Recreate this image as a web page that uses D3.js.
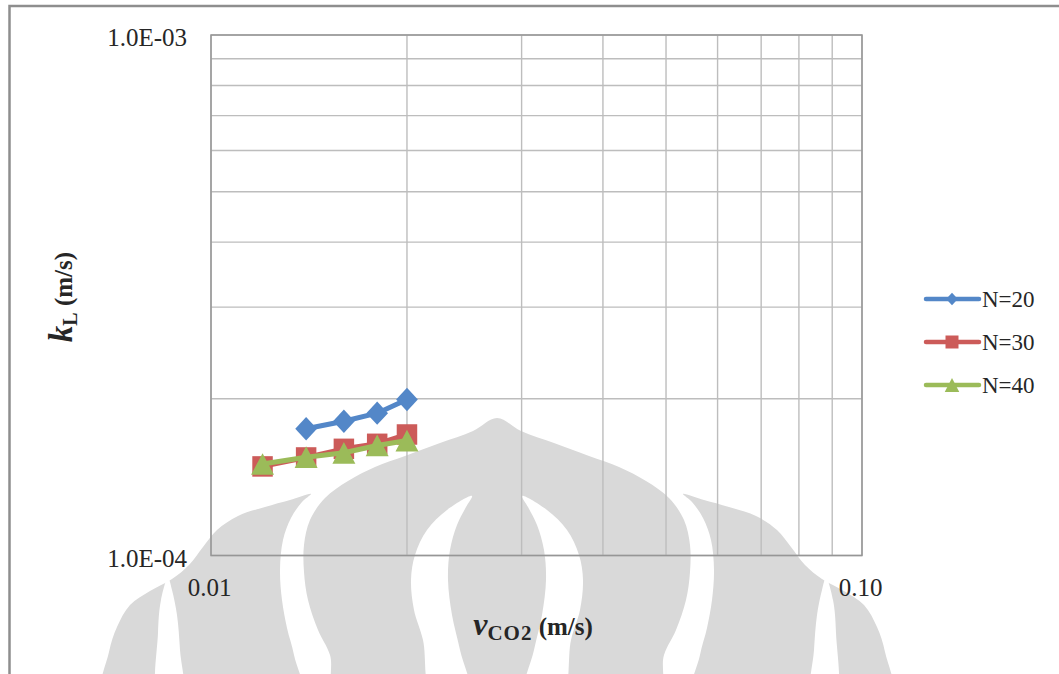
<!DOCTYPE html>
<html>
<head>
<meta charset="utf-8">
<script src="https://cdn.jsdelivr.net/npm/d3@7"></script>
<style>
  html, body { margin: 0; padding: 0; background: #fff; }
  svg { display: block; }
</style>
</head>
<body>
<svg id="chart" width="1059" height="674"></svg>
<script>
// ---- data ----
const seriesNames = ["N=20", "N=30", "N=40"];
const vN20 = [0.014, 0.016, 0.018, 0.020];
const kN20 = [1.752e-4, 1.811e-4, 1.877e-4, 1.994e-4];
const vN30 = [0.012, 0.014, 0.016, 0.018, 0.020];
const kN30 = [1.483e-4, 1.543e-4, 1.603e-4, 1.639e-4, 1.708e-4];
const vN40 = [0.012, 0.014, 0.016, 0.018, 0.020];
const kN40 = [1.499e-4, 1.545e-4, 1.575e-4, 1.627e-4, 1.663e-4];

const xDomain = [0.01, 0.1];
const yDomain = [1e-4, 1e-3];
const xTickValues = [0.01, 0.1];
const xTickLabels = ["0.01", "0.10"];
const yTickValues = [1e-4, 1e-3];
const yTickLabels = ["1.0E-04", "1.0E-03"];

// ---- layout ----
const W = 1059, H = 674;
const plot = { left: 211, right: 862, top: 35, bottom: 555.5 };
const colors = ["#5387c8", "#cc5b59", "#9bbb59"];
const shapes = ["diamond", "square", "triangle"];
const FONT = "'Liberation Serif', 'Times New Roman', serif";
const INK = "#262626";

const svg = d3.select("#chart");

// ---- faint emblem printed behind the figure ----
const EMBLEM_CX = 497;
const mirror = pts => pts.map(([x, y]) => [2 * EMBLEM_CX - x, y]);
const closedCurve = d3.line().curve(d3.curveCatmullRomClosed.alpha(0.5));

const flameLeft = [[497,418],[473,431],[440,443],[405,456],[375,467],[348,481],[325,498],[310,520],[304,545],[304,572],[308,600],[318,630],[330,655],[338,700]];
const flame = flameLeft.concat(mirror(flameLeft).reverse().slice(0, -1));

const petalLeft = [[311,494],[290,500],[265,507],[238,516],[217,530],[203,547],[189,565],[172,579],[150,591],[130,605],[117,627],[109,652],[104,700],[300,700],[294,655],[287,628],[282,600],[280,570],[283,540],[291,518],[302,502]];
const slitLeft = [[168,578],[161,600],[158,633],[159,700],[182,700],[180,650],[177,615],[172,590]];
const crescentLeft = [[472,496],[447,510],[427,530],[415,555],[411,580],[414,610],[423,640],[433,700],[470,700],[460,650],[452,615],[448,580],[450,550],[457,525],[466,507]];

const emblem = svg.append("g").attr("class", "emblem");
[flame, petalLeft, mirror(petalLeft)].forEach(p =>
  emblem.append("path").attr("d", closedCurve(p)).attr("fill", "#d9d9d9"));
[slitLeft, mirror(slitLeft), crescentLeft, mirror(crescentLeft)].forEach(p =>
  emblem.append("path").attr("d", closedCurve(p)).attr("fill", "#ffffff"));

// ---- outer frame ----
svg.append("path")
  .attr("d", `M9.5,${H} V6 H${W}`)
  .attr("fill", "none").attr("stroke", "#8e8e8e").attr("stroke-width", 2.5);

// ---- scales ----
const x = d3.scaleLog().domain(xDomain).range([plot.left, plot.right]);
const y = d3.scaleLog().domain(yDomain).range([plot.bottom, plot.top]);

// ---- gridlines ----
const grid = svg.append("g").attr("class", "grid");
grid.selectAll("line.v").data(x.ticks()).join("line")
  .attr("class", "v")
  .attr("x1", d => x(d)).attr("x2", d => x(d))
  .attr("y1", plot.top).attr("y2", plot.bottom)
  .attr("stroke", "#bdbdbd").attr("stroke-width", 1.4);
grid.selectAll("line.h").data(y.ticks()).join("line")
  .attr("class", "h")
  .attr("x1", plot.left).attr("x2", plot.right)
  .attr("y1", d => y(d)).attr("y2", d => y(d))
  .attr("stroke", "#bdbdbd").attr("stroke-width", 1.4);

svg.append("rect")
  .attr("x", plot.left).attr("y", plot.top)
  .attr("width", plot.right - plot.left).attr("height", plot.bottom - plot.top)
  .attr("fill", "none").attr("stroke", "#969696").attr("stroke-width", 1.5);

// ---- axes (labels only) ----
const xAxis = d3.axisBottom(x)
  .tickValues(xTickValues)
  .tickFormat((d, i) => xTickLabels[i])
  .tickSize(0).tickPadding(23);
const gx = svg.append("g").attr("transform", `translate(0,${plot.bottom})`).call(xAxis);
gx.select(".domain").remove();
gx.selectAll("text").style("font-family", FONT).style("font-size", "25px")
  .attr("fill", INK).attr("dx", -2);

const yAxis = d3.axisLeft(y)
  .tickValues(yTickValues)
  .tickFormat((d, i) => yTickLabels[i])
  .tickSize(0).tickPadding(24);
const gy = svg.append("g").attr("transform", `translate(${plot.left},0)`).call(yAxis);
gy.select(".domain").remove();
gy.selectAll("text").style("font-family", FONT).style("font-size", "25px")
  .attr("fill", INK).attr("dy", "0.42em");

// ---- marker shapes ----
function markerPath(shape, s) {
  if (shape === "diamond") {
    const a = s * 0.53, b = s * 0.57;
    return `M0,${-b} L${a},0 L0,${b} L${-a},0 Z`;
  }
  if (shape === "square") {
    const a = s / 2;
    return `M${-a},${-a} H${a} V${a} H${-a} Z`;
  }
  const a = s * 0.56, h = s * 1.06;
  return `M0,${-h / 2} L${a},${h / 2} L${-a},${h / 2} Z`;
}

// ---- series ----
const series = [
  { name: seriesNames[0], xs: vN20, ys: kN20 },
  { name: seriesNames[1], xs: vN30, ys: kN30 },
  { name: seriesNames[2], xs: vN40, ys: kN40 }
];
const line = d3.line().x(d => x(d[0])).y(d => y(d[1]));

series.forEach((s, i) => {
  const pts = s.xs.map((v, j) => [v, s.ys[j]]);
  const g = svg.append("g").attr("class", "series");
  g.append("path").attr("d", line(pts))
    .attr("fill", "none").attr("stroke", colors[i])
    .attr("stroke-width", 5).attr("stroke-linejoin", "round");
  g.selectAll("path.m").data(pts).join("path")
    .attr("class", "m")
    .attr("transform", d => `translate(${x(d[0])},${y(d[1])})`)
    .attr("d", markerPath(shapes[i], 20.5))
    .attr("fill", colors[i]);
});

// ---- legend ----
const legendY = [299, 342, 385];
const legend = svg.append("g").attr("class", "legend");
series.forEach((s, i) => {
  const g = legend.append("g").attr("transform", `translate(0,${legendY[i]})`);
  g.append("line").attr("x1", 926).attr("x2", 979).attr("y1", 0).attr("y2", 0)
    .attr("stroke", colors[i]).attr("stroke-width", 4.5).attr("stroke-linecap", "round");
  g.append("path").attr("transform", "translate(952,0)")
    .attr("d", markerPath(shapes[i], shapes[i] === "diamond" ? 11 : 13))
    .attr("fill", colors[i]);
  g.append("text").attr("x", 982).attr("y", 8)
    .style("font-family", FONT).style("font-size", "23px").attr("fill", INK)
    .text(s.name);
});

// ---- axis titles ----
const xt = svg.append("text")
  .attr("x", 533).attr("y", 635).attr("text-anchor", "middle")
  .style("font-family", FONT).style("font-weight", "bold").attr("fill", INK);
xt.append("tspan").style("font-style", "italic").style("font-size", "32px").text("v");
xt.append("tspan").style("font-size", "21px").attr("dy", 5).attr("letter-spacing", 1).text("CO2");
xt.append("tspan").style("font-size", "25px").attr("dy", -5).text(" (m/s)");

const yt = svg.append("text")
  .attr("transform", "translate(72,297) rotate(-90)")
  .attr("text-anchor", "middle")
  .style("font-family", FONT).style("font-weight", "bold").attr("fill", INK);
yt.append("tspan").style("font-style", "italic").style("font-size", "33px").text("k");
yt.append("tspan").style("font-size", "20px").attr("dy", 5).text("L");
yt.append("tspan").style("font-size", "25px").attr("dy", -5).text(" (m/s)");
</script>
</body>
</html>
